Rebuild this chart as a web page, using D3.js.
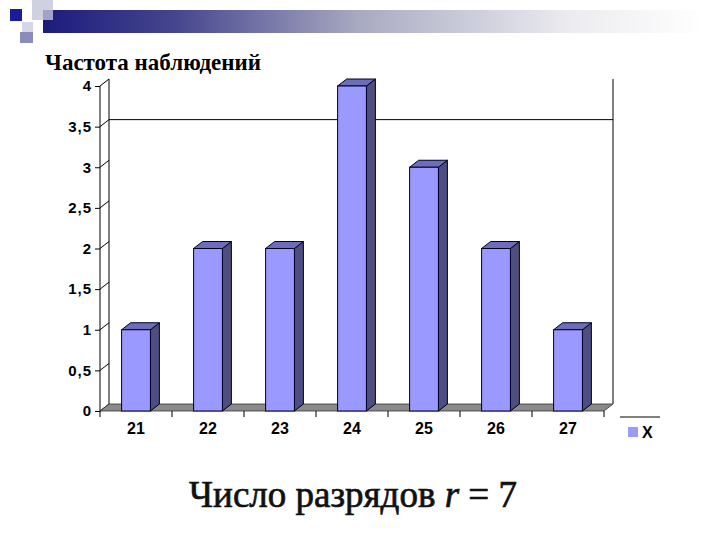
<!DOCTYPE html>
<html>
<head>
<meta charset="utf-8">
<script src="https://cdn.jsdelivr.net/npm/d3@7"></script>
<style>
  body { margin: 0; background: #fff; }
</style>
</head>
<body>
<div id="chart"></div>
<script>
// Data
const categories = ["21", "22", "23", "24", "25", "26", "27"];
const counts = [1, 2, 2, 4, 3, 2, 1];
const yTicks = [0, 0.5, 1, 1.5, 2, 2.5, 3, 3.5, 4];
const gridValues = [3.5];
const seriesName = "X";

const W = 720, H = 540;
const depth = { dx: 9, dy: -7 };

const svg = d3.select("#chart").append("svg")
    .attr("width", W)
    .attr("height", H);

// Slide decoration
const defs = svg.append("defs");
const grad = defs.append("linearGradient").attr("id", "band");
grad.append("stop").attr("offset", "0%").attr("stop-color", "#1c1c7c");
grad.append("stop").attr("offset", "20%").attr("stop-color", "#45458e");
grad.append("stop").attr("offset", "48%").attr("stop-color", "#a9aac2");
grad.append("stop").attr("offset", "80%").attr("stop-color", "#ececf0");
grad.append("stop").attr("offset", "100%").attr("stop-color", "#ffffff");

svg.append("rect").attr("x", 43).attr("y", 10).attr("width", 660).attr("height", 23)
    .attr("fill", "url(#band)");
svg.append("rect").attr("x", 32).attr("y", 0).attr("width", 21).attr("height", 20)
    .attr("fill", "#c4c4dc").attr("opacity", 0.8);
svg.append("rect").attr("x", 22).attr("y", 22).attr("width", 11).attr("height", 10)
    .attr("fill", "#d6d6e8");
svg.append("rect").attr("x", 20).attr("y", 32).attr("width", 13).attr("height", 11)
    .attr("fill", "#8c8cbc");
svg.append("rect").attr("x", 10).attr("y", 9).attr("width", 12).attr("height", 12)
    .attr("fill", "#1a1a9a");

// Scales
const x = d3.scaleBand()
    .domain(categories)
    .range([100, 604])
    .paddingInner(0.6)
    .paddingOuter(0.3);

const y = d3.scaleLinear()
    .domain([0, 4])
    .range([411, 86]);

const x0 = x.range()[0], x1 = x.range()[1];
const step = x.step();

// Back wall
const wall = svg.append("g").attr("stroke", "#000").attr("stroke-width", 1).attr("fill", "none");
wall.append("line")
    .attr("x1", x0 + depth.dx).attr("x2", x0 + depth.dx)
    .attr("y1", y(4) + depth.dy).attr("y2", y(0) + depth.dy);
wall.append("line")
    .attr("x1", x1 + depth.dx).attr("x2", x1 + depth.dx)
    .attr("y1", y(4) + depth.dy).attr("y2", y(0) + depth.dy);

// Gridline on the back wall
wall.selectAll(".grid")
    .data(gridValues)
    .join("line")
    .attr("x1", x0 + depth.dx).attr("x2", x1 + depth.dx)
    .attr("y1", d => y(d) + depth.dy).attr("y2", d => y(d) + depth.dy);

// Floor
svg.append("path")
    .attr("d", `M${x0},${y(0)}L${x1},${y(0)}L${x1 + depth.dx},${y(0) + depth.dy}L${x0 + depth.dx},${y(0) + depth.dy}Z`)
    .attr("fill", "#8a8a8a")
    .attr("stroke", "#333")
    .attr("stroke-width", 0.8);

// Side wall diagonals at ticks
wall.selectAll(".diag")
    .data(yTicks)
    .join("line")
    .attr("x1", x0).attr("x2", x0 + depth.dx)
    .attr("y1", d => y(d)).attr("y2", d => y(d) + depth.dy);

// Bars
const bars = svg.append("g")
    .selectAll("g")
    .data(categories.map((c, i) => ({ c, v: counts[i] })))
    .join("g");

const bw = x.bandwidth();

bars.append("path") // side
    .attr("d", d => {
        const r = x(d.c) + bw, t = y(d.v), b = y(0);
        return `M${r},${b}L${r},${t}L${r + depth.dx},${t + depth.dy}L${r + depth.dx},${b + depth.dy}Z`;
    })
    .attr("fill", "#4d4d80")
    .attr("stroke", "#000022")
    .attr("stroke-width", 1);

bars.append("path") // top
    .attr("d", d => {
        const l = x(d.c), r = l + bw, t = y(d.v);
        return `M${l},${t}L${r},${t}L${r + depth.dx},${t + depth.dy}L${l + depth.dx},${t + depth.dy}Z`;
    })
    .attr("fill", "#6d6dbb")
    .attr("stroke", "#000022")
    .attr("stroke-width", 1);

bars.append("rect") // front
    .attr("x", d => x(d.c))
    .attr("y", d => y(d.v))
    .attr("width", bw)
    .attr("height", d => y(0) - y(d.v))
    .attr("fill", "#9999ff")
    .attr("stroke", "#000022")
    .attr("stroke-width", 1);

// Y axis
const yAxis = svg.append("g")
    .attr("transform", `translate(${x0},0)`)
    .call(d3.axisLeft(y)
        .tickValues(yTicks)
        .tickSize(5)
        .tickPadding(3)
        .tickFormat(d => String(d).replace(".", ",")));
yAxis.select(".domain").attr("d", `M0,${y(4)}V${y(0)}`);
yAxis.selectAll("text")
    .style("font-family", "'Liberation Sans', Arial, sans-serif")
    .style("font-size", "15px")
    .style("font-weight", "bold")
    .style("letter-spacing", "1px")
    .attr("fill", "#000");

// X axis
const xAxis = svg.append("g")
    .attr("transform", `translate(0,${y(0)})`)
    .call(d3.axisBottom(x).tickSize(0).tickPadding(12));
xAxis.select(".domain").remove();
xAxis.selectAll("text")
    .style("font-family", "'Liberation Sans', Arial, sans-serif")
    .style("font-size", "16px")
    .style("font-weight", "bold")
    .attr("fill", "#000");

svg.append("g")
    .selectAll("line")
    .data(d3.range(categories.length + 1))
    .join("line")
    .attr("x1", i => x0 + i * step).attr("x2", i => x0 + i * step)
    .attr("y1", y(0)).attr("y2", y(0) + 6)
    .attr("stroke", "#000");

// Legend
const legend = svg.append("g");
legend.append("line")
    .attr("x1", 620).attr("x2", 660).attr("y1", 417).attr("y2", 417)
    .attr("stroke", "#000");
legend.append("rect")
    .attr("x", 628).attr("y", 427).attr("width", 10).attr("height", 10)
    .attr("fill", "#9999ff");
legend.append("text")
    .attr("x", 642).attr("y", 438)
    .style("font-family", "'Liberation Sans', Arial, sans-serif")
    .style("font-size", "16px")
    .style("font-weight", "bold")
    .text(seriesName);

// Titles
svg.append("text")
    .attr("x", 45).attr("y", 70)
    .style("font-family", "'Liberation Serif', 'DejaVu Serif', serif")
    .style("font-size", "23px")
    .style("font-weight", "bold")
    .text("Частота наблюдений");

const caption = svg.append("text")
    .attr("x", 353).attr("y", 507)
    .attr("text-anchor", "middle")
    .style("font-family", "'Liberation Serif', 'DejaVu Serif', serif")
    .style("font-size", "37px")
    .attr("fill", "#111")
    .attr("stroke", "#111")
    .attr("stroke-width", 0.7);
caption.append("tspan").text("Число разрядов ");
caption.append("tspan").style("font-style", "italic").text("r");
caption.append("tspan").text(" = 7");
</script>
</body>
</html>
